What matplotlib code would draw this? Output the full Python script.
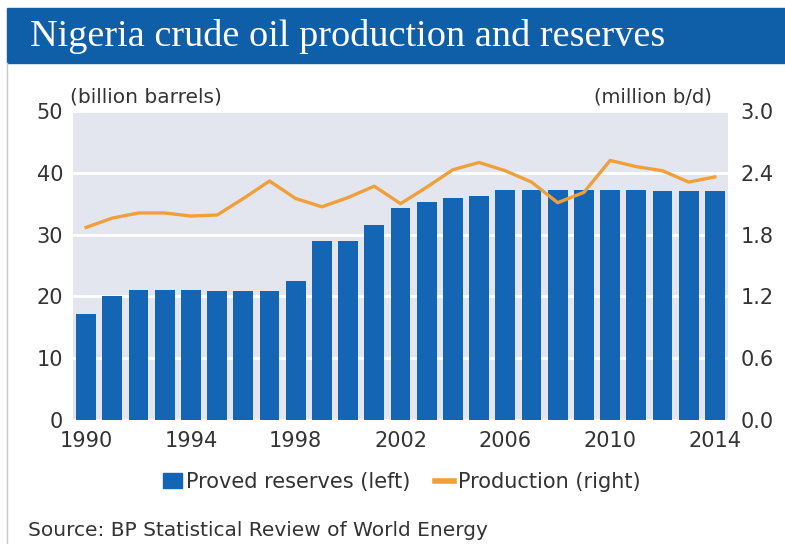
import matplotlib
matplotlib.use("Agg")
import matplotlib.pyplot as plt
from matplotlib.patches import Patch, Rectangle
from matplotlib.lines import Line2D
import numpy as np

# data
years = list(range(1990, 2015))
reserves = [17.1, 20.0, 21.0, 21.0, 21.0, 20.9, 20.9, 20.9, 22.5, 29.0,
            29.0, 31.5, 34.3, 35.3, 35.9, 36.2, 37.2, 37.2, 37.2, 37.2,
            37.2, 37.2, 37.1, 37.1, 37.1]
production = [1.87, 1.96, 2.01, 2.01, 1.98, 1.99, 2.15, 2.32, 2.15, 2.07,
              2.16, 2.27, 2.10, 2.26, 2.43, 2.50, 2.42, 2.31, 2.11, 2.21,
              2.52, 2.46, 2.42, 2.31, 2.36]
left_ticks = [0, 10, 20, 30, 40, 50]
right_ticks = [0.0, 0.6, 1.2, 1.8, 2.4, 3.0]
x_ticks = [1990, 1994, 1998, 2002, 2006, 2010, 2014]

BLUE_TITLE = "#0f5fa8"
BLUE_BAR = "#1565b5"
ORANGE = "#f0a03a"
SHADE = "#e3e5ef"
TXT = "#333333"

fig = plt.figure(figsize=(7.85, 5.44), dpi=100)
W, H = 785, 544

# title band
fig.patches.append(Rectangle((7 / W, 1 - 63 / H), 1 - 7 / W, 55 / H,
                             transform=fig.transFigure, color=BLUE_TITLE, zorder=0))
fig.text(30 / W, 1 - 36 / H, "Nigeria crude oil production and reserves",
         color="white", fontsize=27.5, family=['Liberation Serif', 'DejaVu Serif'],
         va='center', ha='left')
# thin left border
fig.lines.append(Line2D([7 / W, 7 / W], [0, 1 - 63 / H], transform=fig.transFigure,
                        color="#c8c8c8", lw=1))

ax = fig.add_axes([73 / W, 1 - 420 / H, 655 / W, 309 / H])
ax.set_facecolor(SHADE)
ax.bar(years, reserves, width=0.75, color=BLUE_BAR, zorder=3)
ax.set_ylim(0, 50)
ax.set_xlim(1989.5, 2014.5)
ax.set_yticks(left_ticks)
ax.set_xticks(x_ticks)
ax.yaxis.grid(True, color="white", lw=2, zorder=1)
ax.set_axisbelow(True)
for s in ax.spines.values():
    s.set_visible(False)
ax.tick_params(axis='both', length=0, labelsize=15, colors=TXT)
ax.tick_params(axis='y', pad=7)
ax.tick_params(axis='x', pad=8)

ax2 = ax.twinx()
ax2.plot(years, production, color=ORANGE, lw=2.4, zorder=4)
ax2.set_ylim(0, 3.0)
ax2.set_yticks(right_ticks)
ax2.set_yticklabels([f"{v:.1f}" for v in right_ticks])
for s in ax2.spines.values():
    s.set_visible(False)
ax2.tick_params(axis='y', length=0, labelsize=15, colors=TXT, pad=9)

fig.text(70 / W, 1 - 97 / H, "(billion barrels)", fontsize=14.5, color=TXT,
         ha='left', va='center')
fig.text(712 / W, 1 - 97 / H, "(million b/d)", fontsize=14, color=TXT,
         ha='right', va='center')

handles = [Patch(color=BLUE_BAR), Line2D([0], [0], color=ORANGE, lw=4)]
fig.legend(handles, ["Proved reserves (left)", "Production (right)"],
           loc='center', bbox_to_anchor=(402 / W, 1 - 482 / H), ncol=2,
           frameon=False, fontsize=15, handlelength=0.9, handletextpad=0.2,
           columnspacing=1.2, labelcolor=TXT)

fig.text(28 / W, 1 - 531 / H, "Source: BP Statistical Review of World Energy",
         fontsize=14.5, color=TXT, ha='left', va='center')

fig.savefig("out.png", dpi=100)
